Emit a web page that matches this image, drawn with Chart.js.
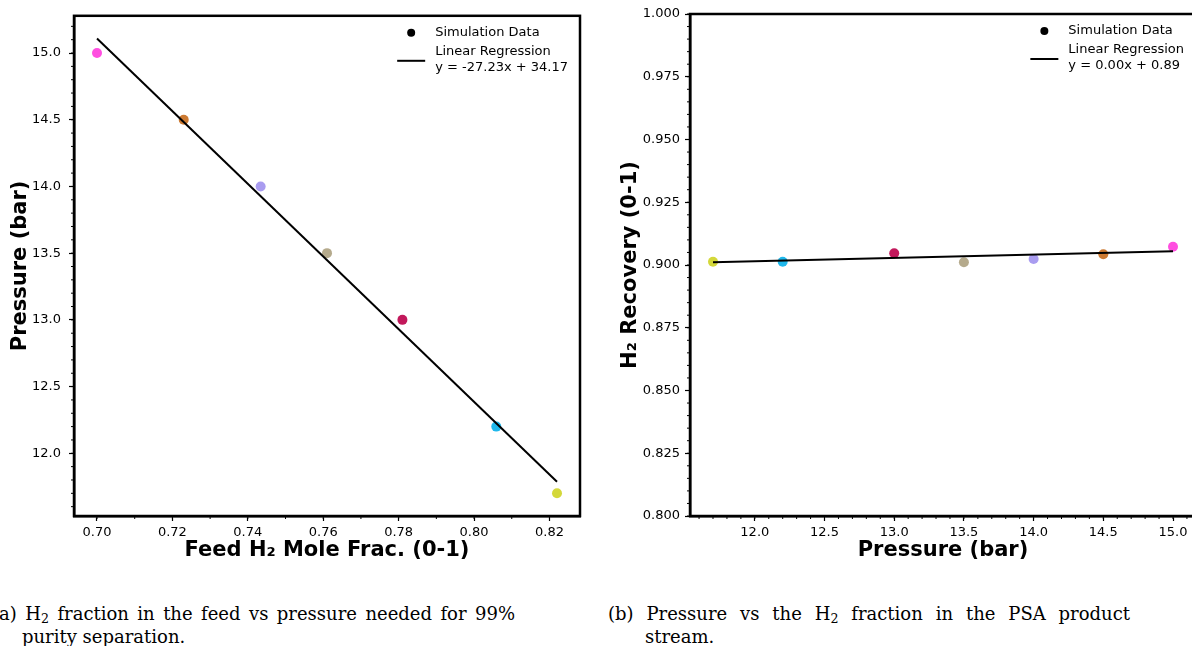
<!DOCTYPE html>
<html>
<head>
<meta charset="utf-8">
<script src="https://cdn.jsdelivr.net/npm/chart.js@4.4.1/dist/chart.umd.min.js"></script>
<style>
  html, body { margin: 0; padding: 0; background: #fff; width: 1192px; height: 646px; overflow: hidden; }
  .panel { position: absolute; top: 0; height: 570px; }
  #panelA { left: 0; width: 596px; }
  #panelB { left: 596px; width: 610px; }
  .cap { position: absolute; font-family: "DejaVu Serif", serif; font-size: 18px; line-height: 23px; white-space: nowrap; color: #000; }
  .cap.just { text-align: justify; text-align-last: justify; }
  .cap sub { font-size: 0.7em; vertical-align: -0.25em; line-height: 0; }
</style>
</head>
<body>
<div class="panel" id="panelA"><canvas id="feedChart"></canvas></div>
<div class="panel" id="panelB"><canvas id="recoveryChart"></canvas></div>

<div class="cap just" style="left:-8px; top:602px; width:523px;">(a) H<sub>2</sub> fraction in the feed vs pressure needed for 99%</div>
<div class="cap" style="left:22px; top:625px;">purity separation.</div>
<div class="cap just" style="left:608px; top:602px; width:522px;">(b) Pressure vs the H<sub>2</sub> fraction in the PSA product</div>
<div class="cap" style="left:645px; top:625px;">stream.</div>

<script>
// simulation runs, ordered from highest to lowest pressure
const runColors = ['#ff4ee0', '#cc7a32', '#a99cf0', '#b5aa8c', '#c2185b', '#1fb8ec', '#d4d83a'];
const feedFrac = [0.700, 0.723, 0.7434, 0.761, 0.781, 0.8059, 0.822];
const feedPressure = [15.0, 14.5, 14.0, 13.5, 13.0, 12.2, 11.7];

const runPressure = [11.7, 12.2, 13.0, 13.5, 14.0, 14.5, 15.0];
const h2Recovery = [0.9013, 0.9013, 0.9047, 0.9011, 0.9024, 0.9043, 0.9073];

// fitted lines: [slope, intercept]
const feedFit = [-27.23, 34.17];
const recoveryFit = [0.00133, 0.8855];

const feedTicks = [0.70, 0.72, 0.74, 0.76, 0.78, 0.80, 0.82];
const pressureTicksA = [12.0, 12.5, 13.0, 13.5, 14.0, 14.5, 15.0];
const pressureTicksB = [12.0, 12.5, 13.0, 13.5, 14.0, 14.5, 15.0];
const recoveryTicks = [0.800, 0.825, 0.850, 0.875, 0.900, 0.925, 0.950, 0.975, 1.000];

const SANS = 'DejaVu Sans';

function fitPoints(xs, fit) {
  const lo = Math.min(...xs), hi = Math.max(...xs);
  return [lo, hi].map(x => ({ x: x, y: fit[0] * x + fit[1] }));
}

function eqText(fit) {
  const s = fit[0] < 0 ? '-' + Math.abs(fit[0]).toFixed(2) : fit[0].toFixed(2);
  return 'y = ' + s + 'x + ' + fit[1].toFixed(2);
}

function axis(opts) {
  const horiz = opts.pos === 'bottom';
  return {
    type: 'linear',
    position: opts.pos,
    min: opts.min,
    max: opts.max,
    minorStep: opts.minor,
    afterBuildTicks: s => { s.ticks = opts.ticks.map(v => ({ value: v })); },
    afterFit: s => { if (horiz) s.height = opts.size; else s.width = opts.size; },
    ticks: {
      autoSkip: false,
      maxRotation: 0,
      padding: opts.tickPad,
      color: '#000',
      font: { family: SANS, size: 13 },
      callback: v => Number(v).toFixed(opts.digits)
    },
    grid: { drawOnChartArea: false, tickLength: 5, tickWidth: 1.2, tickColor: '#000' },
    border: { display: true, color: '#000', width: 2.5 },
    title: {
      display: true,
      text: opts.title,
      color: '#000',
      font: { family: SANS, size: 21, weight: 'bold' },
      padding: opts.titlePad
    }
  };
}

// closes the axes box and adds the small ticks between labelled ones
const frame = {
  id: 'frame',
  afterDraw(chart) {
    const { ctx, chartArea: a } = chart;
    ctx.save();
    ctx.strokeStyle = '#000';
    ctx.lineWidth = 1;
    for (const id of ['x', 'y']) {
      const sc = chart.scales[id];
      const step = sc.options.minorStep;
      const n0 = Math.ceil(sc.min / step - 1e-6), n1 = Math.floor(sc.max / step + 1e-6);
      for (let n = n0; n <= n1; n++) {
        const p = sc.getPixelForValue(n * step);
        ctx.beginPath();
        if (id === 'x') { ctx.moveTo(p, a.bottom); ctx.lineTo(p, a.bottom + 3); }
        else { ctx.moveTo(a.left, p); ctx.lineTo(a.left - 3, p); }
        ctx.stroke();
      }
    }
    ctx.lineWidth = 2.5;
    ctx.strokeRect(a.left, a.top, a.right - a.left, a.bottom - a.top);
    ctx.restore();
  }
};

// legend in the upper right corner, with a two-line entry for the fit
const cornerLegend = {
  id: 'cornerLegend',
  afterDraw(chart, args, o) {
    const { ctx, chartArea: a } = chart;
    ctx.save();
    ctx.font = '13px "' + SANS + '"';
    ctx.fillStyle = '#000';
    ctx.textBaseline = 'middle';
    const lines = [chart.data.datasets[1].label, chart.data.datasets[0].label, o.eq];
    const w = Math.max(...lines.map(t => ctx.measureText(t).width));
    const tx = a.right - 12 - w;
    ctx.fillText(lines[0], tx, a.top + 17);
    ctx.beginPath();
    ctx.arc(tx - 24, a.top + 17, 4, 0, Math.PI * 2);
    ctx.fill();
    ctx.fillText(lines[1], tx, a.top + 36);
    ctx.fillText(lines[2], tx, a.top + 52);
    ctx.strokeStyle = '#000';
    ctx.lineWidth = 2;
    ctx.beginPath();
    ctx.moveTo(tx - 38, a.top + 45);
    ctx.lineTo(tx - 10, a.top + 45);
    ctx.stroke();
    ctx.restore();
  }
};

function makeChart(id, xs, ys, colors, fit, xOpts, yOpts, pad) {
  return new Chart(document.getElementById(id), {
    type: 'scatter',
    data: {
      datasets: [
        {
          label: 'Linear Regression',
          data: fitPoints(xs, fit),
          showLine: true,
          borderColor: '#000',
          borderWidth: 2,
          pointRadius: 0,
          order: 0
        },
        {
          label: 'Simulation Data',
          data: xs.map((x, i) => ({ x: x, y: ys[i] })),
          pointRadius: 5,
          pointBorderWidth: 0,
          pointBackgroundColor: colors,
          pointBorderColor: colors,
          order: 1
        }
      ]
    },
    options: {
      responsive: true,
      maintainAspectRatio: false,
      animation: false,
      layout: { padding: pad },
      scales: { x: axis(xOpts), y: axis(yOpts) },
      plugins: {
        legend: { display: false },
        tooltip: { enabled: false },
        cornerLegend: { eq: eqText(fit) }
      }
    },
    plugins: [frame, cornerLegend]
  });
}

makeChart('feedChart', feedFrac, feedPressure, runColors, feedFit,
  { pos: 'bottom', min: 0.6939, max: 0.8281, minor: 0.01, ticks: feedTicks, digits: 2, tickPad: 4,
    title: 'Feed H₂ Mole Frac. (0-1)', size: 51, titlePad: { top: 4, bottom: 4 } },
  { pos: 'left', min: 11.53, max: 15.279, minor: 0.1, ticks: pressureTicksA, digits: 1, tickPad: 8,
    title: 'Pressure (bar)', size: 74, titlePad: { top: 8, bottom: 4 } },
  { top: 13, right: 16, bottom: 3, left: 0 });

makeChart('recoveryChart', runPressure, h2Recovery, runColors.slice().reverse(), recoveryFit,
  { pos: 'bottom', min: 11.535, max: 15.165, minor: 0.1, ticks: pressureTicksB, digits: 1, tickPad: 4,
    title: 'Pressure (bar)', size: 51, titlePad: { top: 4, bottom: 4 } },
  { pos: 'left', min: 0.8, max: 1.0, minor: 0.005, ticks: recoveryTicks, digits: 3, tickPad: 5,
    title: 'H₂ Recovery (0-1)', size: 94, titlePad: { top: 22, bottom: 4 } },
  { top: 14, right: 10, bottom: 3, left: 0 });
</script>
</body>
</html>
